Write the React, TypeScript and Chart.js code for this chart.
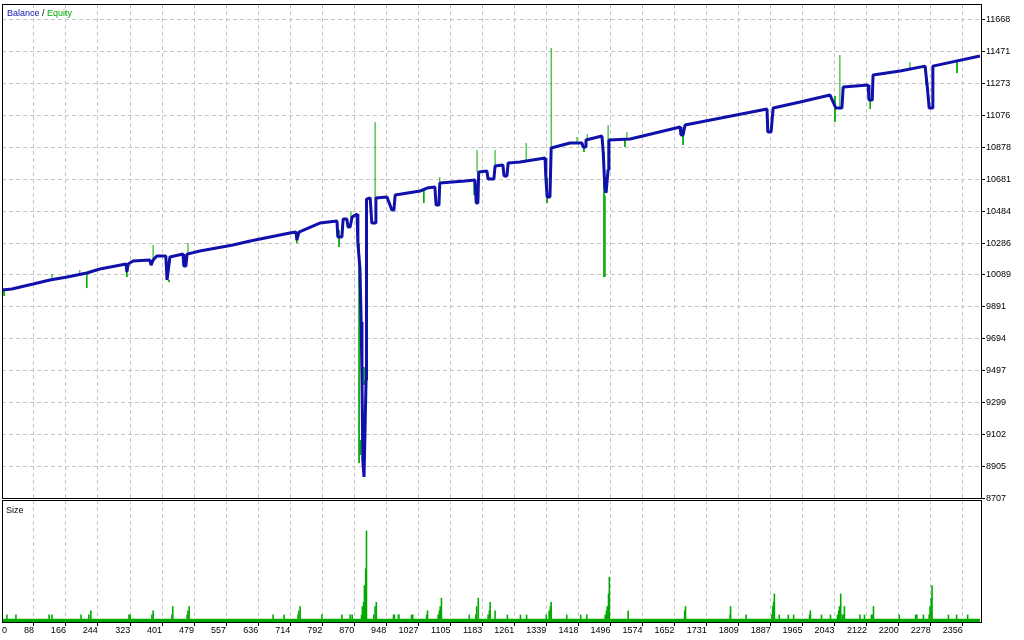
import { useEffect, useRef } from "react";
import { Chart, registerables } from "chart.js";

Chart.register(...registerables);

// ---------- data ----------
const balanceX = [
  10, 34, 86, 127, 169, 217, 249, 313, 315, 318,
  330, 371, 374, 379, 388, 410, 413, 415, 420, 452,
  454, 459, 462, 493, 574, 616, 713, 728, 730, 735,
  786, 828, 830, 840, 843, 852, 855, 860, 865, 877,
  879, 884, 887, 889, 891, 894, 896, 899, 900, 909,
  913, 921, 923, 950, 962, 967, 970, 1031, 1048, 1067,
  1070, 1077, 1079, 1141, 1165, 1168, 1172, 1174, 1194, 1197,
  1211, 1214, 1233, 1236, 1243, 1246, 1275, 1336, 1338, 1341,
  1348, 1351, 1397, 1426, 1429, 1434, 1436, 1475, 1478, 1482,
  1485, 1487, 1490, 1492, 1544, 1666, 1668, 1673, 1678, 1878,
  1880, 1888, 1893, 1959, 2032, 2046, 2061, 2064, 2125, 2127,
  2135, 2137, 2203, 2264, 2269, 2274, 2281, 2283, 2398,
];
const balanceY = [
  9996, 10002, 10033, 10058, 10076, 10101, 10126, 10157, 10107, 10157,
  10175, 10181, 10150, 10181, 10206, 10206, 10058, 10058, 10200, 10218,
  10144, 10144, 10218, 10237, 10274, 10299, 10348, 10354, 10305, 10354,
  10410, 10422, 10324, 10324, 10435, 10435, 10385, 10385, 10447, 10466,
  10286, 10132, 9798, 9458, 8945, 8840, 8840, 9440, 10558, 10565,
  10410, 10410, 10565, 10571, 10490, 10490, 10583, 10608, 10626, 10633,
  10521, 10521, 10657, 10670, 10676, 10534, 10534, 10725, 10731, 10682,
  10682, 10762, 10769, 10701, 10701, 10781, 10787, 10812, 10694, 10571,
  10571, 10874, 10905, 10905, 10880, 10880, 10923, 10948, 10849, 10633,
  10596, 10596, 10738, 10923, 10929, 11004, 10954, 10954, 11016, 11115,
  10973, 10973, 11121, 11158, 11201, 11121, 11121, 11251, 11263, 11170,
  11170, 11325, 11350, 11380, 11263, 11121, 11121, 11380, 11442,
];

// equity excursions away from the balance line
const equityX = [
  15, 132, 200, 217, 315, 379, 418, 464, 730, 833,
  862, 882, 885, 894, 902, 921, 1040, 1079, 1163, 1170,
  1214, 1290, 1341, 1351, 1414, 1431, 1439, 1480, 1483, 1490,
  1531, 1536, 1673, 2044, 2056, 2130, 2227, 2266, 2342,
];
const equityFrom = [
  9996, 10058, 10089, 10101, 10120, 10169, 10058, 10218, 10336, 10367,
  10441, 10286, 9069, 9520, 10565, 10565, 10620, 10657, 10676, 10725,
  10762, 10787, 10694, 10874, 10905, 10880, 10923, 10849, 10076, 10738,
  10929, 10929, 10954, 11195, 11121, 11170, 11368, 11374, 11405,
];
const equityTo = [
  9959, 10095, 10120, 10008, 10076, 10274, 10045, 10286, 10286, 10262,
  10484, 8926, 8976, 9409, 10447, 11034, 10534, 10694, 10583, 10861,
  10861, 10905, 10534, 11492, 10942, 10849, 10960, 10076, 10580, 11016,
  10880, 10973, 10892, 11034, 11449, 11115, 11405, 11263, 11337,
];

// trade sizes (lots)
const sizeBaseX = [10, 2398];
const sizeBaseLots = [0.01, 0.01];
const sizeX = [
  22, 44, 125, 132, 203, 222, 227, 320, 323, 376,
  379, 425, 427, 462, 464, 467, 672, 699, 733, 735,
  738, 791, 840, 860, 865, 888, 890, 893, 895, 898,
  900, 918, 921, 924, 966, 968, 978, 979, 1010, 1013,
  1047, 1049, 1075, 1078, 1080, 1083, 1151, 1167, 1169, 1173,
  1197, 1200, 1202, 1214, 1244, 1276, 1291, 1339, 1346, 1349,
  1351, 1389, 1423, 1438, 1483, 1486, 1488, 1491, 1493, 1539,
  1677, 1679, 1788, 1789, 1827, 1890, 1892, 1894, 1896, 1908,
  1930, 1943, 1982, 1984, 2011, 2033, 2050, 2053, 2055, 2058,
  2062, 2064, 2067, 2105, 2116, 2133, 2135, 2138, 2201, 2241,
  2244, 2260, 2274, 2276, 2279, 2281, 2321, 2341, 2368,
];
const sizeLots = [
  0.02, 0.02, 0.02, 0.02, 0.02, 0.02, 0.03, 0.02, 0.02, 0.02,
  0.03, 0.02, 0.04, 0.02, 0.03, 0.04, 0.02, 0.02, 0.02, 0.03,
  0.04, 0.02, 0.02, 0.02, 0.02, 0.02, 0.04, 0.05, 0.09, 0.13,
  0.22, 0.02, 0.04, 0.05, 0.02, 0.02, 0.02, 0.02, 0.02, 0.02,
  0.02, 0.03, 0.02, 0.03, 0.04, 0.06, 0.02, 0.02, 0.04, 0.06,
  0.02, 0.03, 0.05, 0.03, 0.02, 0.02, 0.02, 0.02, 0.03, 0.04,
  0.05, 0.02, 0.02, 0.02, 0.02, 0.03, 0.04, 0.07, 0.11, 0.03,
  0.03, 0.04, 0.02, 0.04, 0.02, 0.02, 0.04, 0.05, 0.07, 0.02,
  0.02, 0.02, 0.02, 0.03, 0.02, 0.02, 0.02, 0.03, 0.04, 0.07,
  0.02, 0.02, 0.04, 0.02, 0.02, 0.02, 0.02, 0.04, 0.02, 0.02,
  0.02, 0.02, 0.02, 0.04, 0.06, 0.09, 0.02, 0.02, 0.02,
];

const xTickLabels = [
  0, 88, 166, 244, 323, 401, 479, 557, 636, 714, 792, 870, 948, 1027, 1105,
  1183, 1261, 1339, 1418, 1496, 1574, 1652, 1731, 1809, 1887, 1965, 2043,
  2122, 2200, 2278, 2356,
];
const yTickLabels = [
  8707, 8905, 9102, 9299, 9497, 9694, 9891, 10089, 10286, 10484, 10681,
  10878, 11076, 11273, 11471, 11668,
];

// ---------- layout / style ----------
const X_MIN = 10;
const X_MAX = 2403;
const Y_MIN = 8704;
const Y_MAX = 11764;
const SIZE_MAX = 0.293;
const W = 1024;
const TOP_H = 512;
const TOP_PAD_BOTTOM = 13;
const BOTTOM_TOP = 500;
const BOTTOM_H = 140;

const BLUE = "#1010aa";
const GREEN = "#00aa00";
const GRID = "#c6c6c6";
const DASH = [4, 3];
const FONT_FAMILY = '"Liberation Sans", Arial, sans-serif';
const tickFont = { family: FONT_FAMILY, size: 9, lineHeight: 1 };

function framePlugin(id: string, drawLabel: (ctx: CanvasRenderingContext2D) => void) {
  return {
    id,
    afterDraw(chart: any) {
      const { ctx, chartArea: a } = chart;
      ctx.save();
      ctx.setLineDash([]);
      ctx.strokeStyle = "#000";
      ctx.lineWidth = 1;
      ctx.strokeRect(a.left + 0.5, a.top + 0.5, a.right - a.left - 1, a.bottom - a.top - 1);
      drawLabel(ctx);
      ctx.restore();
    },
  };
}

export default function App() {
  const topRef = useRef<HTMLCanvasElement | null>(null);
  const botRef = useRef<HTMLCanvasElement | null>(null);

  useEffect(() => {
    const balanceData = balanceX.map((x, i) => ({ x, y: balanceY[i] }));
    const equityData = equityX.flatMap((x, i) => [
      { x, y: equityFrom[i] },
      { x, y: equityTo[i] },
      { x, y: null as any },
    ]);

    const top = new Chart(topRef.current as HTMLCanvasElement, {
      type: "line",
      data: {
        datasets: [
          {
            label: "Balance",
            data: balanceData,
            borderColor: BLUE,
            borderWidth: 3,
            borderJoinStyle: "bevel",
            pointRadius: 0,
            tension: 0,
            order: 0,
          },
          {
            label: "Equity",
            data: equityData,
            borderColor: GREEN,
            borderWidth: 1,
            pointRadius: 0,
            tension: 0,
            spanGaps: false,
            order: 1,
          },
        ],
      },
      options: {
        responsive: false,
        animation: false,
        events: [],
        layout: { padding: { left: 2, top: 4, right: 0, bottom: TOP_PAD_BOTTOM } },
        plugins: { legend: { display: false }, tooltip: { enabled: false } },
        scales: {
          x: {
            type: "linear",
            min: X_MIN,
            max: X_MAX,
            offset: false,
            afterBuildTicks: (s: any) => {
              s.ticks = xTickLabels.slice(1).map((v) => ({ value: v }));
            },
            afterFit: (s: any) => {
              s.height = 0;
              s.paddingLeft = 0;
              s.paddingRight = 0;
            },
            ticks: { display: false },
            grid: { color: GRID, drawTicks: false, offset: false },
            border: { display: false, dash: DASH },
          },
          y: {
            type: "linear",
            position: "right",
            min: Y_MIN,
            max: Y_MAX,
            afterBuildTicks: (s: any) => {
              s.ticks = yTickLabels.map((v) => ({ value: v }));
            },
            afterFit: (s: any) => {
              s.width = 42;
              s.paddingTop = 0;
              s.paddingBottom = 0;
            },
            ticks: {
              color: "#000",
              font: tickFont,
              padding: 1,
              autoSkip: false,
              callback: (v: any) => String(v),
            },
            grid: { color: GRID, tickColor: "#000", tickLength: 3, tickBorderDash: [] },
            border: { display: false, dash: DASH },
          },
        },
      } as any,
      plugins: [
        framePlugin("topFrame", (ctx) => {
          ctx.font = `9px ${FONT_FAMILY}`;
          ctx.textBaseline = "alphabetic";
          let x = 7;
          const parts: [string, string][] = [
            ["Balance", BLUE],
            [" / ", "#000"],
            ["Equity", GREEN],
          ];
          for (const [t, c] of parts) {
            ctx.fillStyle = c;
            ctx.fillText(t, x, 16);
            x += ctx.measureText(t).width;
          }
        }),
      ],
    });

    const bottom = new Chart(botRef.current as HTMLCanvasElement, {
      type: "bar",
      data: {
        datasets: [
          {
            type: "bar",
            label: "Size",
            data: sizeX.map((x, i) => ({ x, y: sizeLots[i] })),
            backgroundColor: GREEN,
            borderWidth: 0,
            barThickness: 1.6,
            inflateAmount: 0,
            order: 0,
          },
          {
            type: "line",
            label: "Base",
            data: sizeBaseX.map((x, i) => ({ x, y: sizeBaseLots[i] })),
            backgroundColor: GREEN,
            borderColor: GREEN,
            borderWidth: 0,
            pointRadius: 0,
            fill: "origin",
            order: 1,
          },
        ],
      },
      options: {
        responsive: false,
        animation: false,
        events: [],
        layout: { padding: { left: 2, top: 0, right: 42, bottom: 0 } },
        plugins: { legend: { display: false }, tooltip: { enabled: false } },
        scales: {
          x: {
            type: "linear",
            position: "bottom",
            min: X_MIN,
            max: X_MAX,
            offset: false,
            afterBuildTicks: (s: any) => {
              s.ticks = xTickLabels.map((v, i) => ({ value: i === 0 ? X_MIN + 12 : v }));
            },
            afterFit: (s: any) => {
              s.height = 17;
              s.paddingLeft = 0;
              s.paddingRight = 0;
            },
            ticks: {
              align: "end",
              padding: 0,
              font: tickFont,
              color: "#000",
              autoSkip: false,
              maxRotation: 0,
              minRotation: 0,
              callback: (_v: any, i: number) => String(xTickLabels[i]),
            },
            grid: {
              offset: false,
              color: (c: any) => (c.index === 0 ? "rgba(0,0,0,0)" : GRID),
              tickColor: (c: any) => (c.index === 0 ? "rgba(0,0,0,0)" : "#000"),
              tickLength: 3,
              tickBorderDash: [],
            },
            border: { display: false, dash: DASH },
          },
          y: { type: "linear", display: false, min: 0, max: SIZE_MAX },
        },
      } as any,
      plugins: [
        framePlugin("botFrame", (ctx) => {
          ctx.font = `9px ${FONT_FAMILY}`;
          ctx.textBaseline = "alphabetic";
          ctx.fillStyle = "#000";
          ctx.fillText("Size", 6, 13);
        }),
      ],
    });

    return () => {
      top.destroy();
      bottom.destroy();
    };
  }, []);

  return (
    <div
      style={{
        position: "fixed",
        left: 0,
        top: 0,
        width: W,
        height: 640,
        background: "#fff",
      }}
    >
      <canvas
        ref={topRef}
        width={W}
        height={TOP_H}
        style={{ position: "absolute", left: 0, top: 0, display: "block" }}
      />
      <canvas
        ref={botRef}
        width={W}
        height={BOTTOM_H}
        style={{ position: "absolute", left: 0, top: BOTTOM_TOP, display: "block" }}
      />
    </div>
  );
}
